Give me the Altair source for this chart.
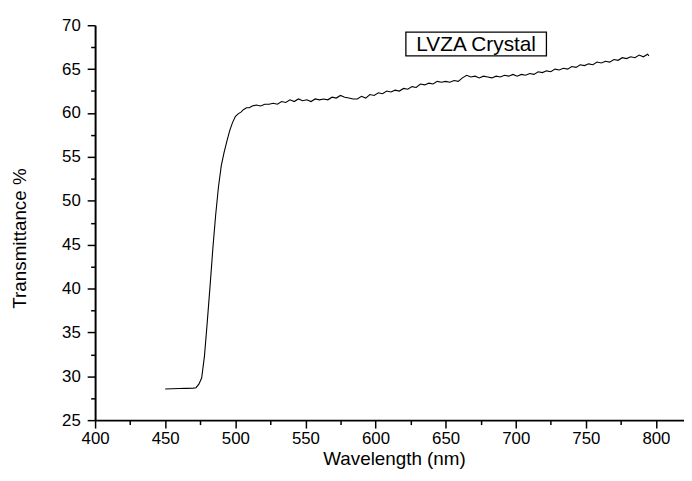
import altair as alt
import pandas as pd

wavelength = [450, 455, 460, 465, 470, 472, 474, 476, 478, 480, 482, 484, 486, 488, 490,
              492, 494, 496, 498, 500, 502, 504, 506, 508, 510, 512, 515, 518, 521, 524,
              527, 530, 533, 536, 539, 542, 545, 548, 551, 554, 557, 560, 563, 566, 569,
              572, 575, 578, 581, 584, 587, 590, 593, 596, 599, 602, 605, 608, 611, 614,
              617, 620, 623, 626, 629, 632, 635, 638, 641, 644, 647, 650, 653, 656, 659,
              662, 665, 668, 671, 674, 677, 680, 683, 686, 689, 692, 695, 698, 701, 704,
              707, 710, 713, 716, 719, 722, 725, 728, 731, 734, 737, 740, 743, 746, 749,
              752, 755, 758, 761, 764, 767, 770, 773, 776, 779, 782, 785, 788, 791, 794, 795]
transmittance = [28.55, 28.57, 28.6, 28.62, 28.65, 28.7, 29.1, 29.8, 32.3, 36.2, 40.3, 44.6, 48.4, 51.6, 54.0,
                 55.5, 56.8, 58.0, 58.9, 59.6, 59.9, 60.1, 60.4, 60.6, 60.6, 60.8, 60.9, 60.8, 61.0, 61.0,
                 61.1, 61.0, 61.3, 61.2, 61.5, 61.3, 61.6, 61.4, 61.5, 61.3, 61.6, 61.5, 61.6, 61.5, 61.8,
                 61.7, 62.0, 61.8, 61.7, 61.6, 61.6, 61.9, 61.7, 62.1, 62.0, 62.3, 62.2, 62.5, 62.4, 62.6,
                 62.5, 62.8, 62.7, 63.0, 62.9, 63.3, 63.2, 63.4, 63.3, 63.6, 63.5, 63.6, 63.5, 63.7, 63.6,
                 64.0, 64.3, 64.1, 64.2, 64.0, 64.2, 64.1, 64.0, 64.2, 64.1, 64.3, 64.2, 64.4, 64.2, 64.4,
                 64.3, 64.5, 64.4, 64.7, 64.6, 64.8, 64.7, 65.0, 64.9, 65.1, 65.0, 65.3, 65.2, 65.5, 65.4,
                 65.6, 65.5, 65.8, 65.7, 65.9, 65.8, 66.1, 66.0, 66.3, 66.2, 66.4, 66.3, 66.6, 66.4, 66.7, 66.5]
series_name = ["LVZA Crystal"]

x_ticks = [400 + 25 * i for i in range(17)]
y_ticks = [25 + 2.5 * i for i in range(19)]

df = pd.DataFrame({"wl": wavelength, "t": transmittance})
df_label = pd.DataFrame({"s": series_name})

FONT = "Liberation Sans"

line = alt.Chart(df).mark_line(color="black", strokeWidth=1.1).encode(
    x=alt.X("wl:Q",
            scale=alt.Scale(domain=[400, 820], nice=False, zero=False),
            axis=alt.Axis(values=x_ticks, title="Wavelength (nm)", labelFlush=False,
                          labelExpr="datum.value % 50 === 0 ? datum.label : ''",
                          tickSize={"condition": {"test": "datum.value % 50 === 0", "value": 8}, "value": 4.5},
                          labelPadding=3, titleX=302, titleY=30, titleBaseline="top",
                          titleFontSize=19)),
    y=alt.Y("t:Q",
            scale=alt.Scale(domain=[25, 70], nice=False, zero=False),
            axis=alt.Axis(values=y_ticks, title="Transmittance %", labelFlush=False,
                          labelExpr="datum.value % 5 === 0 ? datum.label : ''",
                          tickSize={"condition": {"test": "datum.value % 5 === 0", "value": 8}, "value": 4.5},
                          labelPadding=7, titleX=-76, titleY=215, titleBaseline="middle",
                          titleFontSize=19)),
)

box = alt.Chart(df_label).mark_rect(fill="white", stroke="black", strokeWidth=1.3).encode(
    x=alt.value(314), x2=alt.value(456), y=alt.value(7), y2=alt.value(31),
)

label = alt.Chart(df_label).mark_text(font=FONT, fontSize=21, color="black",
                                      align="center", baseline="middle").encode(
    x=alt.value(385), y=alt.value(20), text="s:N",
)

chart = alt.layer(line, box, label).properties(
    width=595, height=399,
    autosize=alt.AutoSizeParams(type="none"),
    padding={"left": 88, "top": 15, "right": 0, "bottom": 51},
).configure_view(stroke=None).configure_axis(
    domainColor="black", domainWidth=2, tickColor="black", tickWidth=1.5,
    labelFont=FONT, labelFontSize=17, labelColor="black",
    titleFont=FONT, titleFontWeight="normal", titleColor="black",
    grid=False,
)

chart.save("out.html", embed_options={"renderer": "svg", "actions": False})
